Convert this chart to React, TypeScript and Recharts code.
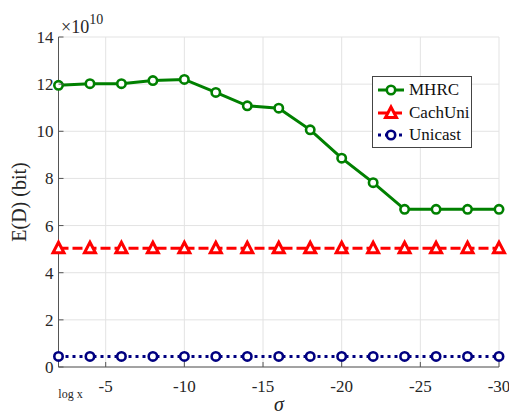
import React from "react";
import {
  CartesianGrid,
  Legend,
  Line,
  LineChart,
  XAxis,
  YAxis,
} from "recharts";

// sigma values (x axis runs from -2 on the left to -30 on the right)
const sigma = [-2, -4, -6, -8, -10, -12, -14, -16, -18, -20, -22, -24, -26, -28, -30];
// E(D) in units of 1e10 bit
const mhrc = [11.95, 12.02, 12.02, 12.15, 12.2, 11.65, 11.08, 10.98, 10.06, 8.86, 7.82, 6.69, 6.69, 6.69, 6.69];
const cachUni = [5.04, 5.04, 5.04, 5.04, 5.04, 5.04, 5.04, 5.04, 5.04, 5.04, 5.04, 5.04, 5.04, 5.04, 5.04];
const unicast = [0.45, 0.45, 0.45, 0.45, 0.45, 0.45, 0.45, 0.45, 0.45, 0.45, 0.45, 0.45, 0.45, 0.45, 0.45];

const xTicks = [-2, -5, -10, -15, -20, -25, -30];
const yTicks = [0, 2, 4, 6, 8, 10, 12, 14];

const series = [
  { key: "mhrc", name: "MHRC", color: "#008000", dash: undefined, marker: "circle" },
  { key: "cachUni", name: "CachUni", color: "#ff0000", dash: "10 4", marker: "triangle" },
  { key: "unicast", name: "Unicast", color: "#000080", dash: "3 4", marker: "circle" },
];

const data = sigma.map((s, i) => ({
  sigma: s,
  mhrc: mhrc[i],
  cachUni: cachUni[i],
  unicast: unicast[i],
}));

const FONT = "Liberation Serif, DejaVu Serif, serif";
const AXIS = "#555";
const INK = "#262626";

function Marker({ cx, cy, color, kind }: any) {
  if (cx == null || cy == null) return null;
  if (kind === "triangle") {
    return (
      <polygon
        points={`${cx},${cy - 6} ${cx - 5.5},${cy + 4.5} ${cx + 5.5},${cy + 4.5}`}
        fill="#fff"
        stroke={color}
        strokeWidth={3}
      />
    );
  }
  return <circle cx={cx} cy={cy} r={4.2} fill="#fff" stroke={color} strokeWidth={2.6} />;
}

const BottomTick = ({ x, y, payload }: any) => (
  <g>
    <line x1={x} x2={x} y1={y} y2={y - 5} stroke={AXIS} />
    {payload.value === -2 ? (
      <text x={x + 12} y={y + 31} style={{ fontFamily: FONT, fontSize: 12 }} textAnchor="middle" fill={INK}>
        log x
      </text>
    ) : (
      <text x={x} y={y + 25} style={{ fontFamily: FONT, fontSize: 17 }} textAnchor="middle" fill={INK}>
        {payload.value}
      </text>
    )}
  </g>
);

const TopTick = ({ x, y }: any) => <line x1={x} x2={x} y1={y} y2={y + 5} stroke={AXIS} />;

const LeftTick = ({ x, y, payload }: any) => (
  <g>
    <line x1={x} x2={x + 5} y1={y} y2={y} stroke={AXIS} />
    <text x={x - 5} y={y + 6} style={{ fontFamily: FONT, fontSize: 17 }} textAnchor="end" fill={INK}>
      {payload.value}
    </text>
  </g>
);

const RightTick = ({ x, y }: any) => <line x1={x} x2={x - 5} y1={y} y2={y} stroke={AXIS} />;

function LegendBox() {
  return (
    <div
      style={{
        width: 100,
        height: 72,
        boxSizing: "border-box",
        border: "1px solid #444",
        background: "#fff",
        padding: "2px 0",
        fontFamily: FONT,
        fontSize: 17,
        color: "#111",
      }}
    >
      {series.map((s) => (
        <div key={s.key} style={{ display: "flex", alignItems: "center", height: 22.5 }}>
          <svg width={32} height={20} style={{ marginLeft: 3 }}>
            <line x1={2} x2={28} y1={10} y2={10} stroke={s.color} strokeWidth={3} strokeDasharray={s.dash} />
            <Marker cx={15} cy={10} color={s.color} kind={s.marker} />
          </svg>
          <span style={{ marginLeft: 1 }}>{s.name}</span>
        </div>
      ))}
    </div>
  );
}

export default function App() {
  return (
    <div
      style={{
        position: "absolute",
        left: 0,
        top: 0,
        width: 509,
        height: 417,
        background: "#fff",
        fontFamily: FONT,
      }}
    >
      <LineChart
        width={509}
        height={417}
        data={data}
        margin={{ top: 37, right: 10, bottom: 0, left: 0 }}
      >
        <CartesianGrid stroke="#e3e3e3" strokeWidth={1} />
        <XAxis
          dataKey="sigma"
          type="number"
          domain={[-30, -2]}
          reversed
          ticks={xTicks}
          interval={0}
          height={50}
          tickLine={false}
          tickSize={0}
          tickMargin={0}
          stroke={AXIS}
          tick={<BottomTick />}
        />
        <XAxis
          xAxisId="top"
          orientation="top"
          dataKey="sigma"
          type="number"
          domain={[-30, -2]}
          reversed
          ticks={xTicks}
          interval={0}
          height={0}
          tickLine={false}
          tickSize={0}
          tickMargin={0}
          stroke={AXIS}
          tick={<TopTick />}
        />
        <YAxis
          type="number"
          domain={[0, 14]}
          ticks={yTicks}
          interval={0}
          width={58.5}
          tickLine={false}
          tickSize={0}
          tickMargin={0}
          stroke={AXIS}
          tick={<LeftTick />}
        />
        <YAxis
          yAxisId="right"
          orientation="right"
          type="number"
          domain={[0, 14]}
          ticks={yTicks}
          interval={0}
          width={0}
          tickLine={false}
          tickSize={0}
          tickMargin={0}
          stroke={AXIS}
          tick={<RightTick />}
        />
        {series.map((s) => (
          <Line
            key={s.key}
            dataKey={s.key}
            name={s.name}
            stroke={s.color}
            strokeWidth={3}
            strokeDasharray={s.dash}
            dot={(p: any) => <Marker key={`${s.key}-${p.index}`} cx={p.cx} cy={p.cy} color={s.color} kind={s.marker} />}
            activeDot={false}
            isAnimationActive={false}
          />
        ))}
        <Legend
          layout="vertical"
          align="center"
          verticalAlign="middle"
          content={() => <LegendBox />}
          wrapperStyle={{ position: "absolute", left: 372, top: 76, width: 100, height: 72 }}
        />
      </LineChart>
      <svg
        width={509}
        height={417}
        style={{ position: "absolute", left: 0, top: 0, pointerEvents: "none" }}
      >
        <text
          transform="translate(26,202) rotate(-90)"
          textAnchor="middle"
          style={{ fontFamily: FONT, fontSize: 20 }}
          fill={INK}
        >
          E(D) (bit)
        </text>
        <text x={61} y={33} style={{ fontFamily: FONT, fontSize: 18 }} fill={INK}>
          ×10
          <tspan dy={-9} style={{ fontSize: 14 }}>
            10
          </tspan>
        </text>
        <text
          x={279}
          y={411}
          textAnchor="middle"
          style={{ fontFamily: FONT, fontSize: 20, fontStyle: "italic" }}
          fill={INK}
        >
          σ
        </text>
      </svg>
    </div>
  );
}
